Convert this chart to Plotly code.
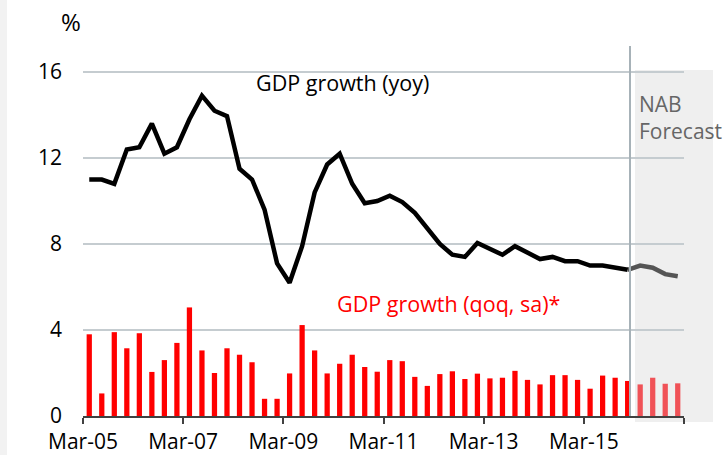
import plotly.graph_objects as go

# ---- data ----
months = ["Mar", "Jun", "Sep", "Dec"]
quarters = [f"{m}-{y:02d}" for y in range(5, 17) for m in months]  # Mar-05 .. Dec-16

yoy_hist = [11.0, 11.0, 10.8, 12.4, 12.5, 13.6, 12.2, 12.5, 13.8, 14.9,
            14.2, 13.95, 11.5, 11.0, 9.6, 7.1, 6.2, 7.9, 10.4, 11.7,
            12.2, 10.8, 9.9, 10.0, 10.25, 9.95, 9.45, 8.75, 8.0, 7.5,
            7.4, 8.05, 7.8, 7.5, 7.9, 7.6, 7.3, 7.4, 7.2, 7.2,
            7.0, 7.0, 6.9, 6.8]
yoy_fcst = [7.0, 6.9, 6.6, 6.5]

qoq_hist = [3.8, 1.05, 3.9, 3.15, 3.85, 2.05, 2.6, 3.4, 5.05, 3.05,
            2.0, 3.15, 2.85, 2.5, 0.8, 0.8, 1.98, 4.23, 3.05, 1.98,
            2.43, 2.85, 2.28, 2.06, 2.6, 2.55, 1.82, 1.4, 1.95, 2.08,
            1.72, 1.97, 1.75, 1.78, 2.1, 1.68, 1.47, 1.9, 1.9, 1.68,
            1.27, 1.88, 1.78, 1.63]
qoq_fcst = [1.47, 1.78, 1.5, 1.52]

n_hist = len(yoy_hist)
x_hist = list(range(n_hist))
x_fcst = list(range(n_hist, n_hist + len(yoy_fcst)))

tick_idx = list(range(0, len(quarters) + 1, 8))
tickvals = [i - 0.5 for i in tick_idx]
ticktext = [quarters[i] if i < len(quarters) else "" for i in tick_idx]

FONT = "Open Sans"
TF = 21

fig = go.Figure()

fig.add_trace(go.Bar(x=x_hist, y=qoq_hist, width=0.42,
                     marker=dict(color="#ff0000", line=dict(width=0)),
                     showlegend=False))
fig.add_trace(go.Bar(x=x_fcst, y=qoq_fcst, width=0.42,
                     marker=dict(color="#f05257", line=dict(width=0)),
                     showlegend=False))
fig.add_trace(go.Scatter(x=[x_hist[-1]] + x_fcst, y=[yoy_hist[-1]] + yoy_fcst,
                         mode="lines", line=dict(color="#555555", width=4.5),
                         showlegend=False))
fig.add_trace(go.Scatter(x=x_hist, y=yoy_hist, mode="lines",
                         line=dict(color="#000000", width=4.5),
                         showlegend=False))

W, H = 724, 455
L, R, T, B = 83, 40, 46, 39
pw, ph = W - L - R, H - T - B

def px(xp):
    return (xp - L) / pw

def py(yp):
    return (H - B - yp) / ph

shapes = [
    dict(type="rect", xref="paper", yref="paper", x0=px(0), x1=px(7),
         y0=py(H), y1=py(0), fillcolor="#f2f2f2", line=dict(width=0), layer="below"),
    dict(type="rect", xref="paper", yref="paper", x0=px(635), x1=px(713),
         y0=py(422), y1=py(70), fillcolor="#efefef", line=dict(width=0), layer="below"),
    dict(type="line", xref="paper", yref="paper", x0=px(630), x1=px(630),
         y0=0, y1=1, line=dict(color="#a7b2b8", width=2), layer="above"),
]

annotations = [
    dict(text="%", xref="paper", yref="paper", x=px(59), y=py(21), yanchor="middle",
         showarrow=False, font=dict(family=FONT, size=24, color="#000000")),
    dict(text="GDP growth (yoy)", xref="paper", yref="paper", x=px(254), y=py(82),
         xanchor="left", yanchor="middle", showarrow=False,
         font=dict(family=FONT, size=21.5, color="#000000")),
    dict(text="GDP growth (qoq, sa)*", xref="paper", yref="paper", x=px(335), y=py(303),
         xanchor="left", yanchor="middle", showarrow=False,
         font=dict(family=FONT, size=21.5, color="#ff0000")),
    dict(text="NAB<br>Forecast", xref="paper", yref="paper", x=px(637), y=py(117),
         xanchor="left", yanchor="middle", align="left", showarrow=False,
         font=dict(family=FONT, size=TF, color="#666666")),
]

fig.update_layout(
    width=W, height=H,
    margin=dict(l=L, r=R, t=T, b=B, pad=0, autoexpand=False),
    paper_bgcolor="white", plot_bgcolor="rgba(0,0,0,0)",
    barmode="overlay",
    font=dict(family=FONT, size=TF, color="#000000"),
    shapes=shapes, annotations=annotations,
    xaxis=dict(range=[-0.5, len(quarters) - 0.5], tickmode="array",
               tickvals=tickvals, ticktext=ticktext, showgrid=False,
               showline=True, linecolor="#404040", linewidth=1.5,
               ticks="outside", ticklen=6, tickwidth=1.5, tickcolor="#404040",
               zeroline=False, automargin=False,
               tickfont=dict(family=FONT, size=TF, color="#000000")),
    yaxis=dict(range=[0, 17.21], tickmode="array", tickvals=[0, 4, 8, 12, 16],
               showgrid=True, gridcolor="#c5ccd0", gridwidth=1.5,
               zeroline=False, showline=False, ticks="", ticklabelstandoff=20,
               automargin=False,
               tickfont=dict(family=FONT, size=TF, color="#000000")),
)

fig.write_html("out.html", config={"displayModeBar": False},
               post_script="document.body.style.margin='0';")
